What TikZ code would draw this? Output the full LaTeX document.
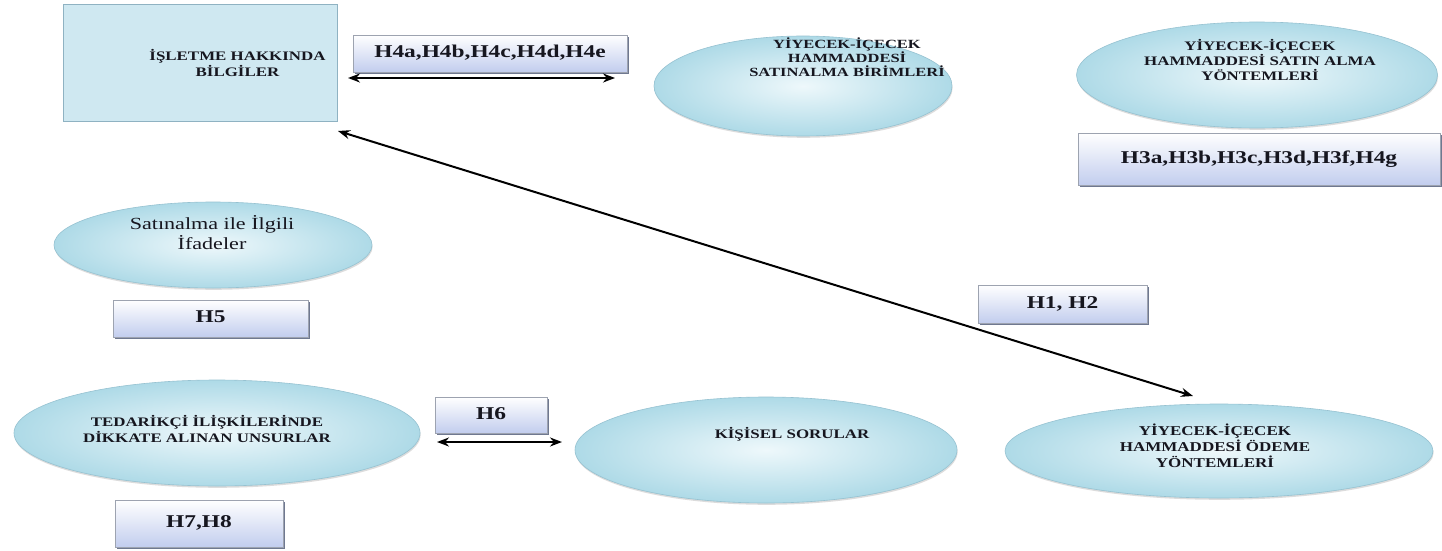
\documentclass[tikz,border=0pt]{standalone}
\usepackage{fontspec}
\setmainfont{Liberation Serif}
\usetikzlibrary{shapes.geometric,shadows,arrows.meta}

\definecolor{panelfill}{HTML}{CFE8F1}
\definecolor{paneledge}{HTML}{8FB2C2}
\definecolor{ovalin}{HTML}{EEF8FB}
\definecolor{ovalout}{HTML}{AEDAE7}
\definecolor{ovaledge}{HTML}{96C2D1}
\definecolor{boxlow}{HTML}{C2CDEE}
\definecolor{boxedge}{HTML}{9DA3B0}
\definecolor{boxshadow}{HTML}{56617D}
\definecolor{ink}{HTML}{16161F}

% wide-set centred text block: [stretch]{size}{line skip}{lines}
\newcommand\wt[4][1.3]{\scalebox{#1}[1]{\fontsize{#2}{#3}\selectfont\begin{tabular}{@{}c@{}}#4\end{tabular}}}

\tikzset{
  panel/.style={rectangle, draw=paneledge, fill=panelfill, line width=0.8pt, inner sep=0},
  hbox/.style={rectangle, draw=boxedge, line width=0.6pt, top color=white, bottom color=boxlow,
    drop shadow={shadow xshift=1.5pt, shadow yshift=-1.8pt, fill=boxshadow, opacity=0.85},
    inner sep=0, text=ink, font=\bfseries},
  oval/.style={ellipse, draw=ovaledge, line width=0.6pt, inner color=ovalin, outer color=ovalout,
    drop shadow={shadow xshift=0.6pt, shadow yshift=-1.8pt, fill=gray!60, opacity=0.45},
    inner sep=0},
  lbl/.style={inner sep=0, text=ink, font=\bfseries},
  plain/.style={inner sep=0, text=ink},
  link/.style={line width=2pt, black, {Stealth[length=12pt,width=9pt]}-{Stealth[length=12pt,width=9pt]}}
}

\begin{document}
\begin{tikzpicture}[x=1pt,y=-1pt]
\useasboundingbox[fill=white] (0,0) rectangle (1442,551);

% business information panel
\node[panel, minimum width=274pt, minimum height=117pt] (panel) at (200,62.5) {};
\node[lbl] (panelt) at (237.5,65) {\wt{13}{16}{İŞLETME HAKKINDA\\BİLGİLER}};

% upper row
\node[hbox, minimum width=274pt, minimum height=37pt] (h4) at (490,53.5) {\wt{18}{20}{H4a,H4b,H4c,H4d,H4e}};

\node[oval, minimum width=298pt, minimum height=100pt] (birim) at (803,86) {};
\node[lbl] (birimt) at (847,59) {\wt[1.32]{12.5}{11.5}{YİYECEK-İÇECEK\\HAMMADDESİ\\SATINALMA BİRİMLERİ}};

\node[oval, minimum width=361pt, minimum height=106pt] (yontem) at (1257,75) {};
\node[lbl] (yontemt) at (1260,62) {\wt{13}{12.5}{YİYECEK-İÇECEK\\HAMMADDESİ SATIN ALMA\\YÖNTEMLERİ}};

\node[hbox, minimum width=362pt, minimum height=52pt] (h3) at (1259,159) {\wt{18}{20}{H3a,H3b,H3c,H3d,H3f,H4g}};

% middle row
\node[oval, minimum width=318pt, minimum height=86pt] (ifade) at (213,245) {};
\node[plain] (ifadet) at (212,235) {\wt{17}{20}{Satınalma ile İlgili\\İfadeler}};

\node[hbox, minimum width=195pt, minimum height=37pt] (h5) at (210.5,318.5) {\wt{18}{20}{H5}};

\node[hbox, minimum width=169pt, minimum height=38pt] (h12) at (1062.5,304) {\wt{18}{20}{H1, H2}};

% lower row
\node[oval, minimum width=406pt, minimum height=106pt] (tedarik) at (217,433) {};
\node[lbl] (tedarikt) at (207,431) {\wt{13}{15}{TEDARİKÇİ İLİŞKİLERİNDE\\DİKKATE ALINAN UNSURLAR}};

\node[hbox, minimum width=112pt, minimum height=36pt] (h6) at (491,415) {\wt{18}{20}{H6}};

\node[oval, minimum width=382pt, minimum height=106pt] (kisisel) at (766,450) {};
\node[lbl] (kisiselt) at (792,435) {\wt{13}{15}{KİŞİSEL SORULAR}};

\node[oval, minimum width=428pt, minimum height=94pt] (odeme) at (1219,451) {};
\node[lbl] (odemet) at (1215,448) {\wt[1.26]{13.5}{15.5}{YİYECEK-İÇECEK\\HAMMADDESİ ÖDEME\\YÖNTEMLERİ}};

\node[hbox, minimum width=168pt, minimum height=47pt] (h78) at (199,523.5) {\wt{18}{20}{H7,H8}};

% connector ends
\coordinate (a1) at (348,78);
\coordinate (a2) at (615,78);
\coordinate (b1) at (338,131);
\coordinate (b2) at (1193,396);
\coordinate (c1) at (437,442);
\coordinate (c2) at (562,442);

\draw[link] (a1) -- (a2);
\draw[link] (b1) -- (b2);
\draw[link] (c1) -- (c2);
\end{tikzpicture}
\end{document}
